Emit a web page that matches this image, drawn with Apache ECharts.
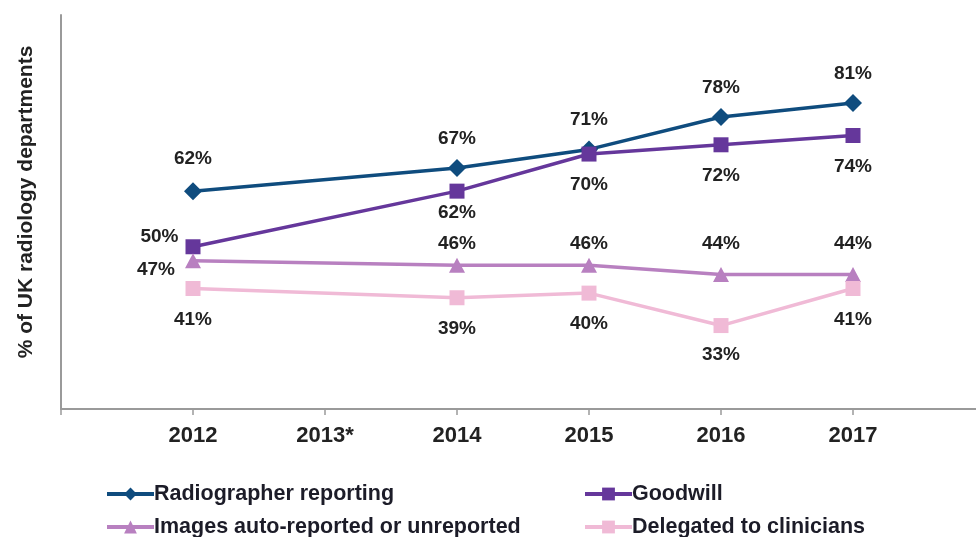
<!DOCTYPE html>
<html>
<head>
<meta charset="utf-8">
<script src="https://cdn.jsdelivr.net/npm/echarts@6/dist/echarts.min.js"></script>
<style>
  html, body { margin: 0; padding: 0; background: #fff; }
  #chart { width: 976px; height: 537px; }
</style>
</head>
<body>
<div id="chart"></div>
<script>
// Survey years (blank slots pad the axis on either side; 2013 had no survey)
var years = ['', '2012', '2013*', '2014', '2015', '2016', '2017', ''];

// Share of UK radiology departments (%) for each reporting route
var radiographerReporting = [null, 62, null, 67, 71, 78, 81, null];
var goodwill = [null, 50, null, 62, 70, 72, 74, null];
var autoReported = [null, 47, null, 46, 46, 44, 44, null];
var delegated = [null, 41, null, 39, 40, 33, 41, null];

var FONT = '"Liberation Sans", Arial, sans-serif';
var TEXT = '#222222';

// Per-point label placement: [position, distance, offsetX, offsetY]
var placeRadiographer = [null, ['top', 14, 0, 0], null, ['top', 11, 0, 0], ['top', 11, 0, 0], ['top', 11, 0, 0], ['top', 11, 0, 0], null];
var placeGoodwill = [null, ['left', 7, 0, -10], null, ['bottom', 5, 0, 0], ['bottom', 14, 0, 0], ['bottom', 14, 0, 0], ['bottom', 14, 0, 0], null];
var placeAuto = [null, ['left', 10, 0, 9], null, ['top', 5, 0, 0], ['top', 5, 0, 0], ['top', 14, 0, 0], ['top', 14, 0, 0], null];
var placeDelegated = [null, ['bottom', 14, 0, 0], null, ['bottom', 14, 0, 0], ['bottom', 14, 0, 0], ['bottom', 12, 0, 0], ['bottom', 14, 0, 0], null];

function withLabels(values, places) {
  return values.map(function (v, i) {
    if (v === null) return null;
    var p = places[i];
    return {
      value: v,
      label: {
        show: true,
        position: p[0],
        distance: p[1],
        offset: [p[2], p[3]],
        formatter: '{c}%',
        color: TEXT,
        fontFamily: FONT,
        fontWeight: 'bold',
        fontSize: 19
      }
    };
  });
}

function lineSeries(name, values, places, color, symbol, size) {
  return {
    name: name,
    type: 'line',
    data: withLabels(values, places),
    connectNulls: true,
    symbol: symbol,
    symbolSize: size,
    lineStyle: { color: color, width: 3.5 },
    itemStyle: { color: color },
    emphasis: { disabled: true },
    z: 3
  };
}

// One legend block per entry, laid out as a two-by-two table
function legendItem(name, left, top) {
  return {
    left: left, top: top,
    itemWidth: 47, itemHeight: 16, itemGap: 0,
    lineStyle: { width: 4 },
    textStyle: { color: '#1c1c28', fontFamily: FONT, fontWeight: 'bold', fontSize: 21.5, padding: [0, 0, 0, -5] },
    data: [name]
  };
}

var chart = echarts.init(document.getElementById('chart'), null, { renderer: 'canvas' });

chart.setOption({
  animation: false,
  backgroundColor: '#ffffff',
  grid: { left: 61, top: 15, width: 924, bottom: 128, containLabel: false, outerBoundsMode: 'none' },
  legend: [
    legendItem('Radiographer reporting', 100, 478),
    legendItem('Images auto-reported or unreported', 100, 511),
    legendItem('Goodwill', 578, 478),
    legendItem('Delegated to clinicians', 578, 511)
  ],
  xAxis: {
    type: 'category',
    data: years,
    boundaryGap: false,
    axisLine: { lineStyle: { color: '#9a9a9a', width: 2 } },
    axisTick: { show: true, length: 6, lineStyle: { color: '#9a9a9a', width: 1.5 }, interval: 0 },
    axisLabel: { interval: 0, margin: 16, color: TEXT, fontFamily: FONT, fontWeight: 'bold', fontSize: 22 },
    splitLine: { show: false }
  },
  yAxis: {
    type: 'value',
    min: 15,
    max: 100,
    name: '% of UK radiology departments',
    nameLocation: 'middle',
    nameGap: 24,
    nameTextStyle: { color: TEXT, fontFamily: FONT, fontWeight: 'bold', fontSize: 21, padding: [0, 0, 0, 20] },
    axisLine: { show: true, lineStyle: { color: '#9a9a9a', width: 2 } },
    axisTick: { show: false },
    axisLabel: { show: false },
    splitLine: { show: false }
  },
  series: [
    lineSeries('Radiographer reporting', radiographerReporting, placeRadiographer, '#0f4c7e', 'diamond', [18, 18]),
    lineSeries('Goodwill', goodwill, placeGoodwill, '#65379b', 'rect', [15, 15]),
    lineSeries('Images auto-reported or unreported', autoReported, placeAuto, '#b880c0', 'triangle', [16, 15]),
    lineSeries('Delegated to clinicians', delegated, placeDelegated, '#f0bad6', 'rect', [15, 15])
  ]
});
</script>
</body>
</html>
